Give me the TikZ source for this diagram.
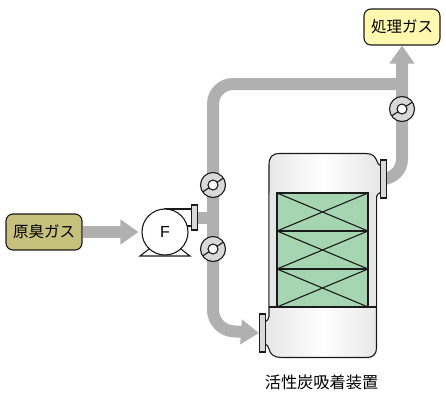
\documentclass[tikz,border=0pt]{standalone}
\usepackage{fontspec}
\setmainfont{Noto Sans CJK JP}
\newfontfamily\latinf{Liberation Sans}
\usetikzlibrary{arrows.meta,backgrounds}
\definecolor{pipeg}{HTML}{B0B0B0}
\definecolor{lineK}{HTML}{1A1A1A}
\definecolor{rawc}{HTML}{C6C17C}
\definecolor{cleanc}{HTML}{FFF8AE}
\definecolor{packc}{HTML}{A6D5B1}
\definecolor{valvec}{HTML}{D9D9D9}
\definecolor{edgec}{HTML}{E6E6E6}
\tikzset{
  x=1pt,y=-1pt,
  outl/.style={draw=lineK,line width=1.1pt},
  gasbox/.style={outl,rounded corners=7pt,minimum width=76pt,minimum height=36pt,inner sep=0pt,font=\fontsize{15.5pt}{16pt}\selectfont},
  pipe/.style={draw=pipeg,line width=12pt,line cap=butt},
  flow/.style={pipe,-{Triangle[length=18pt,width=24pt]}},
  valvesym/.style={outl,circle,fill=valvec,minimum size=25pt,inner sep=0pt,
    path picture={
      \draw[lineK,line width=1.1pt] (path picture bounding box.center)+(-12,8) -- +(12,-8);
      \draw[lineK,line width=1.1pt,fill=white] (path picture bounding box.center) circle (5pt);}},
  flangev/.style={outl,fill=valvec,minimum width=6pt,minimum height=38pt,inner sep=0pt},
  packbed/.style={outl,fill=packc,minimum width=91pt,minimum height=38pt,inner sep=0pt,
    path picture={
      \draw[lineK,line width=1.1pt] (path picture bounding box.north west) -- (path picture bounding box.south east)
        (path picture bounding box.north east) -- (path picture bounding box.south west);}},
}
\begin{document}
\begin{tikzpicture}
\useasboundingbox (0,0) rectangle (446,394);
% vessel
\shade[left color=edgec,right color=edgec,middle color=white]
  (269,165) .. controls (269,157) and (272,153.5) .. (280,153.5) -- (366,153.5)
  .. controls (373,153.5) and (375,157) .. (376.5,160) .. controls (377,163) and (379,165) .. (381,166)
  -- (381,192) .. controls (378,193) and (376.5,195) .. (376.5,199)
  -- (376.5,348) .. controls (376.5,354) and (373,357.5) .. (367,357.5)
  -- (281,357.5) .. controls (274,357.5) and (270,354) .. (269,349)
  .. controls (268.5,346) and (267,345) .. (265,344)
  -- (265,322) .. controls (267,321) and (269,319) .. (269,316) -- cycle;
\draw[outl]
  (269,165) .. controls (269,157) and (272,153.5) .. (280,153.5) -- (366,153.5)
  .. controls (373,153.5) and (375,157) .. (376.5,160) .. controls (377,163) and (379,165) .. (381,166)
  (381,192) .. controls (378,193) and (376.5,195) .. (376.5,199)
  -- (376.5,348) .. controls (376.5,354) and (373,357.5) .. (367,357.5)
  -- (281,357.5) .. controls (274,357.5) and (270,354) .. (269,349)
  .. controls (268.5,346) and (267,345) .. (265,344)
  (265,322) .. controls (267,321) and (269,319) .. (269,316) -- (269,165);
\fill[edgec] (269.6,193) rectangle (276,307) (369,193) rectangle (375.9,307);
\draw[outl] (269,307) -- (376.5,307);
\node[packbed] (bed1) at (322.5,212) {};
\node[packbed] (bed2) at (322.5,250) {};
\node[packbed] (bed3) at (322.5,288) {};
\node[flangev] (nozout) at (383.5,179) {};
\node[flangev] (nozin) at (262.5,333) {};
% boxes
\node[gasbox,fill=rawc] (raw) at (44,232) {原臭ガス};
\node[gasbox,fill=cleanc] (clean) at (402,27) {処理ガス};
% pump
\fill[white] (165,234) -- (190,256) -- (140,256) -- cycle;
\draw[outl,line join=miter] (153,246) -- (140,256) -- (190,256) -- (177,246);
\draw[outl,fill=white] (165,209) rectangle (193,226);
\node[outl,circle,fill=white,minimum size=46pt,inner sep=0pt,font=\latinf\fontsize{16pt}{16pt}\selectfont] (pump) at (165,232) {F};
\node[outl,fill=valvec,minimum width=6pt,minimum height=25pt,inner sep=0pt] (nozpump) at (194.5,217.5) {};
% valves
\node[valvesym] (v1) at (213,185) {};
\node[valvesym] (v2) at (213,249) {};
\node[valvesym] (v3) at (402,109) {};
\node[font=\fontsize{16.2pt}{17pt}\selectfont,inner sep=0pt] (label) at (321.5,382) {活性炭吸着装置};
\coordinate (tee) at (213,217.5);
\coordinate (bendA) at (213,84);
\coordinate (bendB) at (402,84);
\coordinate (bendC) at (213,330);
\coordinate (bendD) at (402,179);
\begin{pgfonlayer}{background}
  \draw[flow,shorten >=3pt] (raw.east) -- (pump.west);
  \draw[pipe] (nozpump.east) -- (tee);
  \draw[flow,rounded corners=20pt] (bendB) -- (bendA) -- (bendC) -- (nozin.west);
  \draw[flow,rounded corners=20pt] (nozout.east) -- (bendD) -- (clean.south);
\end{pgfonlayer}
\end{tikzpicture}
\end{document}
